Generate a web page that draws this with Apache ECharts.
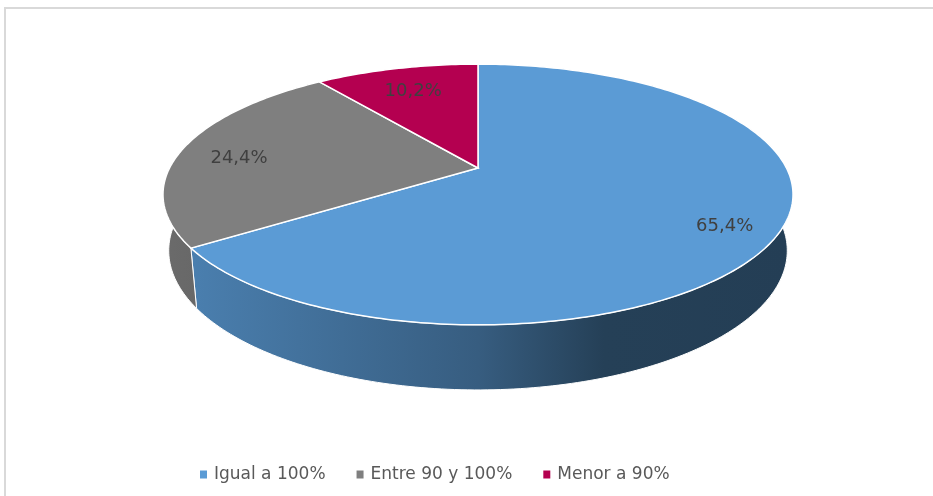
<!DOCTYPE html>
<html>
<head>
<meta charset="utf-8">
<script src="https://cdn.jsdelivr.net/npm/echarts@6/dist/echarts.min.js"></script>
<style>
  html, body { margin: 0; padding: 0; background: #fff; overflow: hidden; }
  #pie3d { width: 933px; height: 496px; }
</style>
</head>
<body>
<div id="pie3d"></div>
<script>
const categories = ['Igual a 100%', 'Entre 90 y 100%', 'Menor a 90%'];
const values = [65.4, 24.4, 10.2];
const colors = ['#5B9BD5', '#7F7F7F', '#B40050'];

// fake 3d: disc seen from above with a bit of perspective
const cx = 478, cy = 168;
const focal = 1388, dist = 4.5, depth = 0.198;
const tilt = 23.9 * Math.PI / 180;
const sinA = Math.sin(tilt), cosA = Math.cos(tilt);
const total = values.reduce((a, b) => a + b, 0);

function proj(r, phi, y) {
  const X = r * Math.sin(phi);
  const Z = -r * Math.cos(phi);
  const near = y * sinA + Z * cosA;
  const up = y * cosA - Z * sinA;
  const w = dist - near;
  return [cx + focal * X / w, cy - focal * up / w];
}

function shade(hex, f) {
  const n = parseInt(hex.slice(1), 16);
  const r = Math.round(((n >> 16) & 255) * f);
  const g = Math.round(((n >> 8) & 255) * f);
  const b = Math.round((n & 255) * f);
  return 'rgb(' + r + ',' + g + ',' + b + ')';
}

function arc(a0, a1, y) {
  const pts = [];
  const steps = Math.max(4, Math.ceil((a1 - a0) / (Math.PI / 180)));
  for (let k = 0; k <= steps; k++) {
    pts.push(proj(1, a0 + (a1 - a0) * k / steps, y));
  }
  return pts;
}

function makeRender(i) {
  return function (params, api) {
    const before = values.slice(0, i).reduce((a, b) => a + b, 0);
    const a0 = before / total * Math.PI * 2;
    const a1 = (before + api.value(0)) / total * Math.PI * 2;
    const top = arc(a0, a1, 0);
    const bottom = arc(a0, a1, -depth).reverse();
    const mid = (a0 + a1) / 2;
    const lp = proj(0.82, mid, 0);
    return {
      type: 'group',
      children: [
        {
          type: 'polygon',
          z2: 1,
          shape: { points: top.concat(bottom) },
          style: {
            fill: {
              type: 'linear', x: 163, y: 0, x2: 793, y2: 0, global: true,
              colorStops: [
                { offset: 0, color: shade(colors[i], 0.84) },
                { offset: 0.5, color: shade(colors[i], 0.6) },
                { offset: 0.7, color: shade(colors[i], 0.41) },
                { offset: 1, color: shade(colors[i], 0.4) }
              ]
            },
            stroke: '#ffffff',
            lineWidth: 1
          }
        },
        {
          type: 'polygon',
          z2: 5,
          shape: { points: [[cx, cy]].concat(top) },
          style: { fill: colors[i], stroke: '#ffffff', lineWidth: 1.5 }
        },
        {
          type: 'text',
          z2: 10,
          style: {
            text: values[i].toFixed(1).replace('.', ',') + '%',
            x: lp[0] + 4, y: lp[1] + 7,
            align: 'center', verticalAlign: 'middle',
            fill: '#404040',
            font: '18px "DejaVu Sans"'
          }
        }
      ]
    };
  };
}

const chart = echarts.init(document.getElementById('pie3d'));
const option = {
  animation: false,
  backgroundColor: '#ffffff',
  graphic: [
    {
      type: 'line',
      shape: { x1: 5, y1: 8, x2: 5, y2: 496 },
      style: { stroke: '#d9d9d9', lineWidth: 2 },
      silent: true
    },
    {
      type: 'line',
      shape: { x1: 4, y1: 8, x2: 933, y2: 8 },
      style: { stroke: '#d9d9d9', lineWidth: 2 },
      silent: true
    }
  ],
  legend: {
    left: 195,
    top: 461,
    icon: 'rect',
    itemWidth: 7,
    itemHeight: 8,
    itemGap: 31,
    data: categories,
    textStyle: { color: '#595959', fontSize: 17, fontFamily: 'DejaVu Sans', padding: [0, 0, 0, 2] }
  },
  series: categories.map((name, i) => ({
    type: 'custom',
    name: name,
    coordinateSystem: 'none',
    itemStyle: { color: colors[i] },
    data: [values[i]],
    renderItem: makeRender(i)
  }))
};
chart.setOption(option);
</script>
</body>
</html>
